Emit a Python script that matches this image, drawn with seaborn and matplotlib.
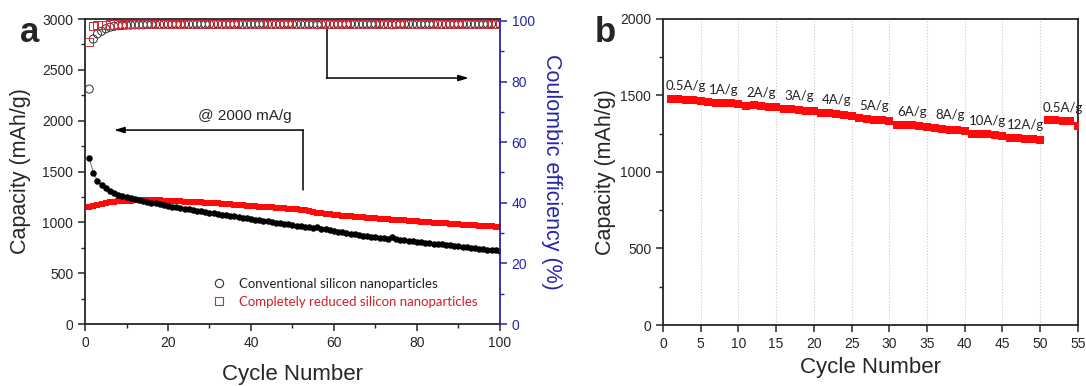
import numpy as np
import pandas as pd
import seaborn as sns
import matplotlib.pyplot as plt
from matplotlib.lines import Line2D
from matplotlib.ticker import MultipleLocator

# ---- panel a: cycling at 2000 mA/g ----
cycles_a = list(range(1, 101))

cap_conventional = [
    1635, 1490, 1410, 1365, 1335, 1310, 1290, 1274, 1260, 1248,
    1237, 1227, 1218, 1210, 1202, 1194, 1186, 1178, 1170, 1163,
    1156, 1149, 1142, 1135, 1128, 1121, 1114, 1107, 1100, 1094,
    1088, 1082, 1076, 1070, 1064, 1058, 1052, 1046, 1040, 1034,
    1028, 1022, 1016, 1010, 1004, 998, 992, 986, 980, 974,
    968, 962, 956, 950, 944, 952, 938, 930, 922, 915,
    908, 901, 894, 887, 881, 875, 870, 865, 860, 855,
    850, 845, 840, 852, 836, 831, 826, 821, 816, 811,
    806, 801, 797, 792, 787, 783, 778, 774, 769, 765,
    760, 756, 751, 747, 742, 738, 733, 729, 724, 720,
]

cap_reduced = [
    1150, 1160, 1175, 1185, 1192, 1198, 1203, 1207, 1210, 1213,
    1215, 1217, 1218, 1219, 1219, 1218, 1217, 1216, 1214, 1212,
    1210, 1208, 1206, 1204, 1202, 1200, 1198, 1196, 1194, 1192,
    1189, 1186, 1183, 1180, 1177, 1174, 1171, 1168, 1165, 1162,
    1159, 1156, 1153, 1150, 1147, 1144, 1141, 1138, 1135, 1132,
    1128, 1124, 1118, 1110, 1102, 1095, 1089, 1083, 1078, 1073,
    1069, 1065, 1061, 1058, 1055, 1052, 1049, 1046, 1043, 1040,
    1037, 1034, 1031, 1028, 1025, 1022, 1019, 1016, 1013, 1010,
    1007, 1004, 1001, 998, 995, 992, 989, 986, 983, 980,
    978, 975, 973, 970, 968, 966, 963, 961, 959, 957,
]

ce_conventional = [
    77.5, 94.0, 95.7, 96.6, 97.4, 97.9, 98.2, 98.4, 98.5, 98.6,
    98.6, 98.7, 98.7, 98.7, 98.8, 98.8, 98.8, 98.8, 98.9, 98.9,
    98.9, 98.9, 98.8, 98.9, 98.9, 98.9, 99.0, 98.9, 98.9, 98.9,
    98.9, 99.0, 98.9, 98.9, 98.9, 98.9, 99.0, 98.9, 98.9, 98.9,
    98.9, 98.9, 99.0, 98.9, 98.9, 98.9, 98.9, 98.9, 99.0, 98.9,
    98.9, 98.9, 98.9, 98.9, 98.9, 98.7, 98.9, 99.0, 98.9, 98.9,
    98.9, 98.9, 98.9, 99.0, 98.9, 98.9, 98.9, 98.9, 98.9, 98.9,
    99.0, 98.9, 98.9, 98.7, 98.9, 98.9, 98.9, 99.0, 98.9, 98.9,
    98.9, 98.9, 98.9, 98.9, 99.0, 98.9, 98.9, 98.9, 98.9, 98.9,
    98.9, 99.0, 98.9, 98.9, 98.9, 98.9, 98.9, 99.0, 98.9, 98.9,
]

ce_reduced = [
    93.0, 98.2, 98.5, 98.6, 98.7, 98.8, 98.8, 98.9, 98.9, 98.9,
    98.9, 99.0, 98.9, 99.0, 99.0, 98.9, 99.0, 99.0, 99.0, 98.9,
    99.0, 99.0, 99.0, 99.0, 98.9, 99.0, 99.0, 99.0, 99.0, 99.0,
    98.9, 99.0, 99.0, 99.0, 99.0, 99.0, 99.0, 98.9, 99.0, 99.0,
    99.0, 99.0, 99.0, 99.0, 99.0, 98.9, 99.0, 99.0, 99.0, 99.0,
    99.0, 99.0, 98.9, 99.0, 99.0, 98.9, 99.0, 99.0, 99.0, 99.0,
    99.0, 99.0, 99.0, 98.9, 99.0, 99.0, 99.0, 99.0, 99.0, 99.0,
    98.9, 99.0, 99.0, 99.0, 99.0, 99.0, 99.0, 99.0, 98.9, 99.0,
    99.0, 99.0, 99.0, 99.0, 99.0, 99.0, 99.0, 99.0, 99.0, 98.9,
    99.0, 99.0, 99.0, 99.0, 99.0, 99.0, 99.0, 99.0, 99.0, 99.0,
]

legend_labels = ["Conventional silicon nanoparticles",
                 "Completely reduced silicon nanoparticles"]

# ---- panel b: rate capability ----
cycles_b = list(range(1, 56))
cap_rate = [
    1478, 1476, 1473, 1470, 1465,
    1455, 1453, 1452, 1450, 1447,
    1432, 1436, 1430, 1427, 1423,
    1412, 1409, 1405, 1400, 1397,
    1385, 1382, 1377, 1370, 1365,
    1350, 1345, 1342, 1338, 1333,
    1310, 1308, 1305, 1300, 1296,
    1287, 1280, 1276, 1272, 1268,
    1250, 1247, 1245, 1242, 1238,
    1225, 1222, 1216, 1213, 1211,
    1338, 1338, 1336, 1330, 1298,
]
rate_labels = ["0.5A/g", "1A/g", "2A/g", "3A/g", "4A/g", "5A/g",
               "6A/g", "8A/g", "10A/g", "12A/g", "0.5A/g"]

sns.set_style("ticks")
plt.rcParams['font.family'] = ['Liberation Sans', 'DejaVu Sans']
plt.rcParams['axes.linewidth'] = 1.3

RED = '#ff0a0a'
RED_EDGE = '#c8303a'
BLUE = '#2525a8'

fig = plt.figure(figsize=(10.86, 3.86), dpi=100)

# ================= panel a =================
ax = fig.add_axes([0.0783, 0.1606, 0.382, 0.790])
ax2 = ax.twinx()

sns.lineplot(x=cycles_a, y=cap_conventional, ax=ax, color='0.35', lw=0.6)
sns.scatterplot(x=cycles_a, y=cap_reduced, ax=ax, marker='s', color=RED,
                s=22, linewidth=0, zorder=3)
sns.scatterplot(x=cycles_a, y=cap_conventional, ax=ax, marker='o', color='black',
                s=22, linewidth=0, zorder=4)

sns.scatterplot(x=cycles_a, y=ce_conventional, ax=ax2, marker='o', color='black',
                facecolors='none', edgecolor='#333333', s=34, linewidth=0.7, zorder=3)
sns.scatterplot(x=cycles_a, y=ce_reduced, ax=ax2, marker='s', color=RED_EDGE,
                facecolors='none', edgecolor=RED_EDGE, s=34, linewidth=0.7, zorder=4)

ax.set_xlim(0, 100)
ax.set_ylim(0, 3000)
ax2.set_ylim(0, 100.6)
ax.xaxis.set_major_locator(MultipleLocator(20))
ax.xaxis.set_minor_locator(MultipleLocator(10))
ax.yaxis.set_major_locator(MultipleLocator(500))
ax.yaxis.set_minor_locator(MultipleLocator(250))
ax2.yaxis.set_major_locator(MultipleLocator(20))
ax2.yaxis.set_minor_locator(MultipleLocator(10))

for a in (ax, ax2):
    a.tick_params(which='major', length=5, width=1.1, labelsize=10, direction='out')
    a.tick_params(which='minor', length=3, width=1.0, direction='out')
ax2.tick_params(which='both', colors=BLUE, labelcolor=BLUE)
ax2.spines['right'].set_color(BLUE)
for s in ('left', 'top', 'bottom'):
    ax2.spines[s].set_visible(False)
ax.spines['right'].set_visible(False)

ax.set_xlabel("Cycle Number", fontsize=16)
ax.set_ylabel("Capacity (mAh/g)", fontsize=15.5)
ax2.set_ylabel("Coulombic efficiency (%)", fontsize=15.5, color=BLUE,
               rotation=270, va='bottom')
ax.xaxis.set_label_coords(0.5, -0.13)
ax.yaxis.set_label_coords(-0.13, 0.5)
ax2.yaxis.set_label_coords(1.10, 0.5)

# arrows pointing to the axes
ax.plot([52.5, 52.5], [1318, 1908], color='black', lw=1.1)
ax.annotate('', xy=(7.0, 1908), xytext=(52.6, 1908),
            arrowprops=dict(arrowstyle='-|>,head_length=0.6,head_width=0.18',
                            color='black', lw=1.1, shrinkA=0, shrinkB=0))
ax.text(38.6, 2050, "@ 2000 mA/g", fontsize=11, ha='center', va='center')
ax.plot([58.3, 58.3], [2920, 2420], color='black', lw=1.1)
ax.annotate('', xy=(92.5, 2420), xytext=(58.2, 2420),
            arrowprops=dict(arrowstyle='-|>,head_length=0.6,head_width=0.18',
                            color='black', lw=1.1, shrinkA=0, shrinkB=0))

handles = [
    Line2D([], [], ls='', marker='o', mfc='none', mec='#333333', ms=6, mew=0.8),
    Line2D([], [], ls='', marker='s', mfc='none', mec=RED_EDGE, ms=6, mew=0.8),
]
leg = ax.legend(handles, legend_labels, loc='lower left', bbox_to_anchor=(0.27, 0.015),
                frameon=False, prop={'family': 'Lato', 'size': 9.5},
                handletextpad=0.8, labelspacing=0.45, handlelength=1.5)
leg.get_texts()[0].set_color('#222222')
leg.get_texts()[1].set_color('#d0202a')

fig.text(0.018, 0.915, "a", fontsize=25, fontweight='bold', va='center')

# ================= panel b =================
bx = fig.add_axes([0.6105, 0.158, 0.382, 0.793])
bx.grid(axis='x', color='#c8c8c8', linestyle=':', lw=0.8)
bx.set_axisbelow(True)
sns.scatterplot(x=cycles_b, y=cap_rate, ax=bx, marker='s', color=RED,
                s=28, linewidth=0, zorder=3)
bx.set_xlim(0, 55)
bx.set_ylim(0, 2000)
bx.xaxis.set_major_locator(MultipleLocator(5))
bx.yaxis.set_major_locator(MultipleLocator(500))
bx.yaxis.set_minor_locator(MultipleLocator(250))
bx.tick_params(which='major', length=5, width=1.1, labelsize=10, direction='out')
bx.tick_params(which='minor', length=3, width=1.0, direction='out')
bx.set_xlabel("Cycle Number", fontsize=16)
bx.set_ylabel("Capacity (mAh/g)", fontsize=15.5)
bx.xaxis.set_label_coords(0.5, -0.105)
bx.yaxis.set_label_coords(-0.113, 0.5)

rate_df = pd.DataFrame({'cycle': cycles_b, 'cap': cap_rate})
rate_df['step'] = (rate_df['cycle'] - 1) // 5
for step, grp in rate_df.groupby('step'):
    bx.text(grp['cycle'].mean(), grp['cap'].max() + 82, rate_labels[step],
            fontsize=9.5, family='Lato', ha='center', va='center', color='#222222')

fig.text(0.548, 0.915, "b", fontsize=25, fontweight='bold', va='center')

fig.savefig("out.png", dpi=100)
